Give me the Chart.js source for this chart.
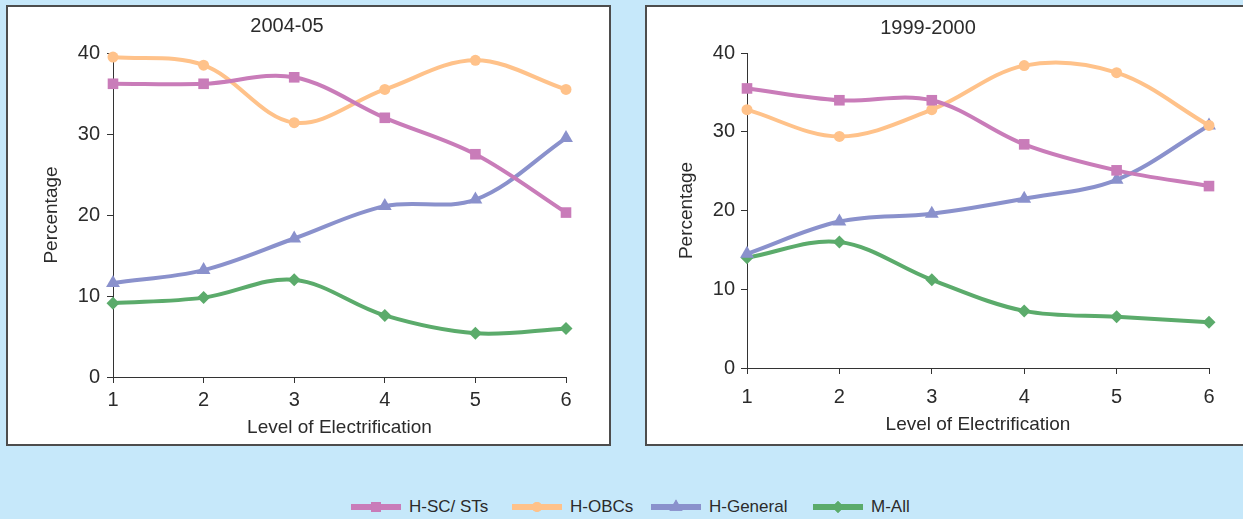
<!DOCTYPE html>
<html>
<head>
<meta charset="utf-8">
<script src="https://cdn.jsdelivr.net/npm/chart.js@4.4.1/dist/chart.umd.min.js"></script>
<style>
  body { margin: 0; width: 1243px; height: 519px; overflow: hidden; position: relative;
         background: #c6e8fa; font-family: "Liberation Sans", Arial, sans-serif; color: #2b2b2b; }
  .panel { position: absolute; top: 5px; height: 437px; background: #fff; border: 2px solid #4d4d4d; }
  #p1 { left: 6px; width: 601px; }
  #p2 { left: 645px; width: 620px; }
  .item { position: absolute; top: 496px; height: 22px; display: flex; align-items: center; font-size: 17px; white-space: nowrap; }
  .item canvas { margin-right: 8px; }
</style>
</head>
<body>
<div class="panel" id="p1"><canvas id="c1" width="601" height="437"></canvas></div>
<div class="panel" id="p2"><canvas id="c2" width="600" height="437"></canvas></div>
<div id="legend"></div>
<script>
// niveaux d'electrification
var levels = ['1', '2', '3', '4', '5', '6'];
var seriesNames = ['H-SC/ STs', 'H-OBCs', 'H-General', 'M-All'];

// 2004-05
var scSts0405 = [36.2, 36.2, 37.0, 32.0, 27.5, 20.3];
var obc0405 = [39.5, 38.5, 31.4, 35.5, 39.1, 35.5];
var general0405 = [11.6, 13.2, 17.1, 21.1, 21.9, 29.5];
var mAll0405 = [9.1, 9.8, 12.0, 7.6, 5.4, 6.0];

// 1999-2000
var scSts9900 = [35.5, 34.0, 34.0, 28.4, 25.1, 23.1];
var obc9900 = [32.8, 29.4, 32.8, 38.4, 37.5, 30.8];
var general9900 = [14.5, 18.6, 19.6, 21.5, 23.9, 30.8];
var mAll9900 = [14.0, 16.0, 11.2, 7.25, 6.5, 5.8];

var yTicks = [0, 10, 20, 30, 40];

var cores = ['#c97cb9', '#ffc28a', '#8a91cc', '#5bab6b'];
var estilos = ['rect', 'circle', 'triangle', 'rectRot'];
var raios = [7.5, 5.5, 8, 6.5];
var legendaX = [351, 512, 651, 813]; // inicio de cada item da legenda
var fonte = '"Liberation Sans", Arial, sans-serif';

function montaGrafico(id, titulo, valores, g) {
  var datasets = valores.map(function (v, i) {
    return {
      label: seriesNames[i],
      data: v,
      borderColor: cores[i],
      backgroundColor: cores[i],
      pointBackgroundColor: cores[i],
      pointBorderColor: cores[i],
      pointBorderWidth: 0,
      pointStyle: estilos[i],
      pointRadius: raios[i],
      borderWidth: 4,
      tension: 0.35,
      clip: false
    };
  });

  new Chart(document.getElementById(id).getContext('2d'), {
    type: 'line',
    data: { labels: levels, datasets: datasets },
    options: {
      responsive: false,
      animation: false,
      events: [],
      layout: { padding: { left: 0, right: g.right, top: 0, bottom: 0 } },
      plugins: {
        legend: { display: false },
        tooltip: { enabled: false },
        title: {
          display: true,
          text: titulo,
          color: '#2b2b2b',
          font: { family: fonte, size: 20, weight: 'normal' },
          padding: { top: g.titleTop, bottom: g.titleBottom }
        }
      },
      scales: {
        x: {
          type: 'category',
          offset: false,
          grid: { display: true, drawOnChartArea: false, drawTicks: true, tickLength: 6, color: '#333' },
          border: { display: true, color: '#333', width: 1 },
          ticks: { color: '#2b2b2b', padding: g.xTickPad, maxRotation: 0, font: { family: fonte, size: 20 } },
          title: {
            display: true, text: 'Level of Electrification', color: '#2b2b2b',
            font: { family: fonte, size: 19 }, padding: { top: 0, bottom: g.xTitlePad }
          },
          afterFit: function (s) { s.height = g.xHeight; }
        },
        y: {
          min: 0, max: 40,
          afterBuildTicks: function (s) { s.ticks = yTicks.map(function (v) { return { value: v }; }); },
          grid: { display: true, drawOnChartArea: false, drawTicks: true, tickLength: 6, color: '#333' },
          border: { display: true, color: '#333', width: 1 },
          ticks: { color: '#2b2b2b', padding: g.yTickPad, font: { family: fonte, size: 20 } },
          title: {
            display: true, text: 'Percentage', color: '#2b2b2b',
            font: { family: fonte, size: 19 }, padding: { top: g.yTitlePad, bottom: 0 }
          },
          afterFit: function (s) { s.width = g.yWidth; }
        }
      }
    }
  });
}

montaGrafico('c1', '2004-05', [scSts0405, obc0405, general0405, mAll0405],
  { right: 43, titleTop: 7, titleBottom: 15, xTickPad: 5, xTitlePad: 5, xHeight: 67, yTickPad: 7, yTitlePad: 32, yWidth: 105 });
montaGrafico('c2', '1999-2000', [scSts9900, obc9900, general9900, mAll9900],
  { right: 38, titleTop: 9, titleBottom: 13, xTickPad: 11, xTitlePad: 8, xHeight: 76, yTickPad: 6, yTitlePad: 28, yWidth: 100 });

// legenda em HTML
var leg = document.getElementById('legend');
seriesNames.forEach(function (nome, i) {
  var item = document.createElement('div');
  item.className = 'item';
  item.style.left = legendaX[i] + 'px';
  var cv = document.createElement('canvas');
  cv.width = 50; cv.height = 18;
  var ctx = cv.getContext('2d');
  ctx.fillStyle = cores[i];
  ctx.fillRect(0, 6, 50, 6);
  ctx.strokeStyle = cores[i];
  Chart.helpers.drawPoint(ctx, { pointStyle: estilos[i], radius: raios[i] - 0.5, borderWidth: 0 }, 25, 9);
  ctx.fill();
  item.appendChild(cv);
  var txt = document.createElement('span');
  txt.textContent = nome;
  item.appendChild(txt);
  leg.appendChild(item);
});
</script>
</body>
</html>
